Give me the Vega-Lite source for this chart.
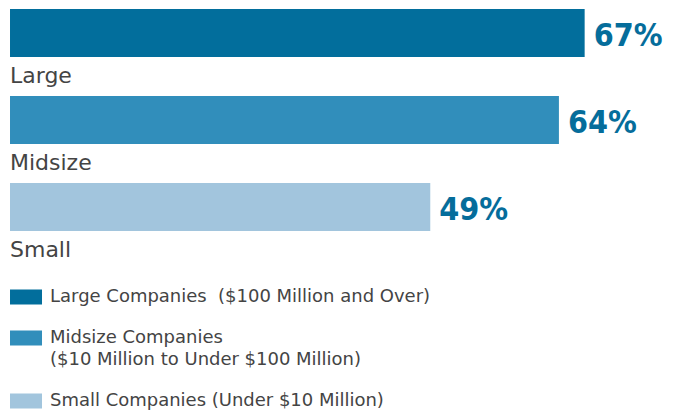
{
  "$schema": "https://vega.github.io/schema/vega-lite/v6.json",
  "width": 663,
  "height": {"step": 87},
  "padding": {"left": 10, "top": 9, "right": 0, "bottom": 0},
  "background": "white",
  "config": {"view": {"stroke": null}, "style": {"guide-label": {"lineHeight": 22}}},
  "data": {"values": [
    {"size": "Large", "company": "Large Companies \u00a0($100 Million and Over)", "pct": 0.67},
    {"size": "Midsize", "company": "Midsize Companies|($10 Million to Under $100 Million)", "pct": 0.64},
    {"size": "Small", "company": "Small Companies (Under $10 Million)", "pct": 0.49}
  ]},
  "encoding": {
    "y": {"field": "size", "type": "nominal", "sort": null, "axis": null, "scale": {"paddingInner": 0.4483, "paddingOuter": 0}},
    "x": {"field": "pct", "type": "quantitative", "axis": null, "scale": {"domain": [0, 0.773]}}
  },
  "layer": [
    {
      "mark": {"type": "bar"},
      "encoding": {
        "color": {
          "field": "company", "type": "nominal", "sort": null,
          "scale": {"range": ["#026e9c", "#318ebb", "#a2c5dd"]},
          "legend": {
            "title": null, "orient": "none", "legendX": 0, "legendY": 272,
            "direction": "vertical",
            "symbolType": "M-1,-0.47H1V0.47H-1Z", "symbolSize": 1024,
            "symbolStrokeWidth": 0, "symbolOpacity": 1,
            "labelFont": "DejaVu Sans", "labelFontSize": 18, "labelColor": "#444444",
            "labelOffset": 8, "labelLimit": 600,
            "labelExpr": "split(datum.label, '|')",
            "rowPadding": 16, "padding": 0, "offset": 0
          }
        }
      }
    },
    {
      "mark": {"type": "text", "align": "left", "baseline": "middle", "dx": 9, "dy": 3, "font": "DejaVu Sans Condensed", "fontWeight": "bold", "fontSize": 32, "color": "#056d9b"},
      "encoding": {"text": {"field": "pct", "type": "quantitative", "format": ".0%"}}
    },
    {
      "mark": {"type": "text", "align": "left", "baseline": "alphabetic", "dy": 50, "font": "DejaVu Sans", "fontSize": 22, "color": "#444444"},
      "encoding": {"x": {"datum": 0}, "text": {"field": "size"}}
    }
  ]
}
